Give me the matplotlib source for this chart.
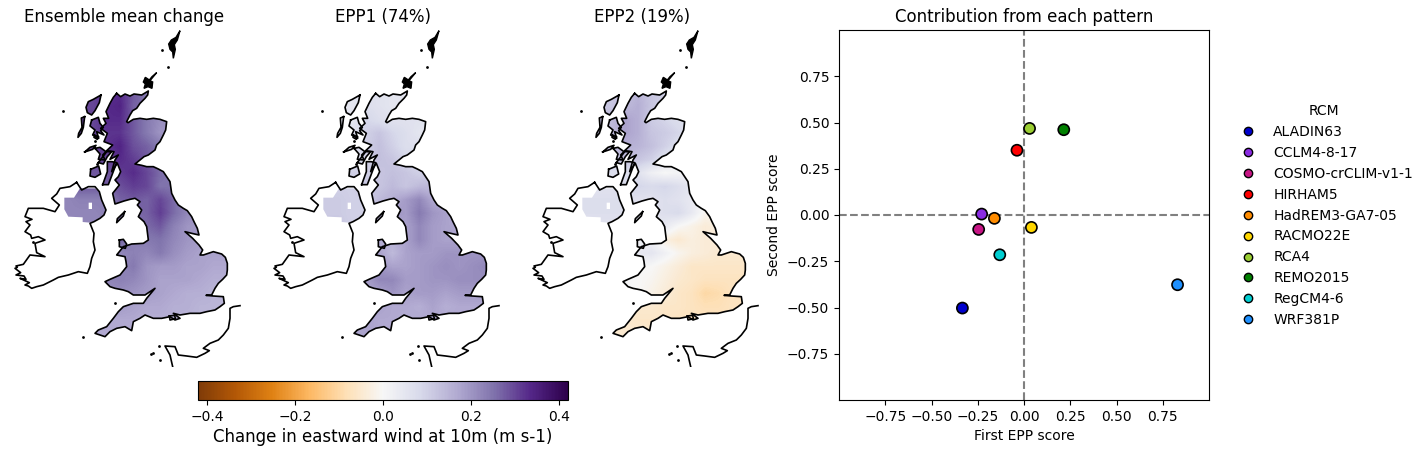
import matplotlib
matplotlib.use("Agg")
import matplotlib.pyplot as plt
import numpy as np
from matplotlib.lines import Line2D
from matplotlib.path import Path
from matplotlib.patches import PathPatch

# model scores
rcms = ["ALADIN63", "CCLM4-8-17", "COSMO-crCLIM-v1-1", "HIRHAM5", "HadREM3-GA7-05",
        "RACMO22E", "RCA4", "REMO2015", "RegCM4-6", "WRF381P"]
rcm_colours = ["mediumblue", "blueviolet", "mediumvioletred", "red", "darkorange",
               "gold", "yellowgreen", "green", "darkturquoise", "dodgerblue"]
epp1_score = [-0.333, -0.229, -0.245, -0.038, -0.16, 0.04, 0.03, 0.215, -0.131, 0.83]
epp2_score = [-0.503, 0.005, -0.078, 0.35, -0.018, -0.067, 0.468, 0.461, -0.215, -0.377]

titles = ["Ensemble mean change", "EPP1 (74%)", "EPP2 (19%)"]

# wind change on a coarse grid, hundredths of m/s, rows north to south
grid_x = [200, 240, 280, 320, 360, 400, 440, 480, 520, 560, 600, 640, 680]
grid_y = [220, 260, 300, 340, 380, 420, 460, 500, 540, 580, 620, 660, 700, 740, 780, 820, 860, 900, 940]
mean_change = [
    [30, 30, 30, 32, 33, 28, 24, 22, 20, 20, 20, 20, 20],
    [30, 30, 30, 33, 34, 27, 25, 22, 20, 20, 20, 20, 20],
    [30, 30, 30, 33, 33, 28, 24, 21, 20, 20, 20, 20, 20],
    [30, 30, 30, 32, 32, 28, 24, 20, 20, 20, 20, 20, 20],
    [30, 30, 30, 32, 34, 29, 27, 24, 22, 20, 20, 20, 20],
    [30, 30, 30, 30, 33, 31, 28, 25, 22, 20, 20, 20, 20],
    [28, 28, 28, 28, 31, 33, 30, 26, 24, 20, 20, 20, 20],
    [28, 28, 28, 28, 29, 31, 30, 25, 25, 24, 20, 20, 20],
    [22, 23, 23, 23, 27, 28, 27, 30, 26, 22, 20, 20, 20],
    [22, 22, 22, 23, 25, 26, 27, 31, 26, 22, 20, 20, 20],
    [22, 22, 22, 22, 24, 25, 26, 28, 23, 20, 19, 19, 19],
    [20, 20, 20, 22, 27, 23, 24, 25, 22, 20, 19, 19, 19],
    [20, 20, 20, 21, 22, 23, 22, 24, 21, 19, 18, 18, 18],
    [20, 20, 20, 21, 22, 24, 20, 19, 19, 18, 18, 17, 17],
    [20, 20, 20, 22, 23, 22, 20, 18, 18, 18, 17, 16, 16],
    [20, 20, 20, 21, 21, 20, 19, 18, 17, 16, 16, 15, 15],
    [20, 20, 20, 19, 19, 18, 17, 17, 16, 16, 15, 15, 15],
    [17, 17, 17, 17, 17, 17, 16, 16, 16, 15, 15, 15, 15],
    [17, 17, 17, 17, 17, 17, 16, 16, 16, 15, 15, 15, 15],
]
epp1_change = [
    [5, 5, 5, 7, 6, 5, 5, 5, 5, 5, 5, 5, 5],
    [5, 5, 5, 7, 6, 5, 5, 5, 5, 5, 5, 5, 5],
    [5, 5, 5, 9, 7, 6, 6, 6, 6, 5, 5, 5, 5],
    [6, 6, 6, 10, 12, 9, 7, 5, 5, 5, 5, 5, 5],
    [6, 6, 6, 10, 13, 10, 7, 7, 6, 5, 5, 5, 5],
    [6, 6, 6, 10, 13, 12, 9, 8, 8, 6, 6, 6, 6],
    [10, 10, 10, 10, 12, 13, 12, 10, 12, 10, 10, 10, 10],
    [10, 10, 10, 12, 12, 14, 12, 14, 14, 13, 10, 10, 10],
    [11, 11, 10, 10, 14, 16, 19, 22, 17, 16, 14, 14, 14],
    [11, 11, 10, 10, 16, 20, 19, 24, 20, 18, 16, 16, 16],
    [12, 12, 10, 10, 16, 18, 18, 22, 19, 18, 17, 17, 17],
    [15, 15, 15, 15, 16, 16, 18, 22, 19, 18, 18, 18, 18],
    [17, 17, 17, 17, 18, 14, 18, 19, 19, 20, 20, 20, 20],
    [18, 18, 18, 18, 20, 18, 18, 19, 20, 21, 20, 21, 22],
    [18, 18, 18, 18, 22, 22, 19, 19, 20, 20, 21, 21, 21],
    [18, 18, 18, 18, 18, 20, 18, 19, 19, 18, 19, 19, 19],
    [18, 18, 18, 18, 18, 17, 17, 16, 18, 16, 17, 17, 17],
    [18, 18, 18, 18, 17, 17, 16, 17, 17, 17, 17, 17, 17],
    [18, 18, 18, 18, 17, 17, 16, 17, 17, 17, 17, 17, 17],
]
epp2_change = [
    [12, 12, 12, 12, 15, 12, 10, 10, 8, 8, 8, 8, 8],
    [12, 12, 12, 14, 16, 12, 10, 10, 8, 8, 8, 8, 8],
    [14, 14, 14, 18, 16, 11, 9, 7, 6, 6, 6, 6, 6],
    [14, 14, 14, 18, 16, 12, 11, 9, 6, 5, 5, 5, 5],
    [14, 14, 14, 16, 15, 13, 10, 7, 5, 4, 4, 4, 4],
    [12, 12, 12, 13, 12, 10, 6, 3, 2, 2, 2, 2, 2],
    [7, 7, 7, 7, 6, 2, 0, 1, 1, 1, 1, 1, 1],
    [6, 6, 6, 8, 9, 8, 9, 7, 5, 1, 1, 1, 1],
    [7, 7, 7, 7, 6, 6, 7, 6, 4, 0, -1, -1, -1],
    [7, 7, 7, 7, 6, 6, 7, 8, 4, -1, -1, -1, -1],
    [6, 6, 6, 6, 5, 5, 4, 0, -2, -4, -3, -3, -3],
    [6, 6, 5, 3, 2, 2, -3, -5, -3, -4, -4, -4, -4],
    [3, 3, 3, 4, 4, 5, 2, -1, -3, -4, -5, -5, -5],
    [1, 1, 1, 1, 0, 0, -2, -4, -6, -6, -6, -6, -6],
    [0, 0, 0, 1, 0, -1, -3, -5, -6, -7, -7, -7, -7],
    [0, 0, 0, 0, 0, -2, -4, -6, -7, -10, -9, -7, -7],
    [-3, -3, -3, -4, -5, -5, -6, -6, -7, -8, -8, -7, -7],
    [-5, -5, -5, -5, -6, -6, -6, -7, -7, -7, -7, -7, -7],
    [-5, -5, -5, -5, -5, -6, -6, -7, -7, -7, -7, -7, -7],
]

gb_x = [350, 362, 375, 390, 402, 425, 445, 443, 435, 420, 410, 398, 390, 380, 384, 400, 420, 440, 460, 480, 500, 497, 490, 480, 470, 465, 445, 432, 420, 405, 425, 440, 460, 475, 490, 500, 510, 515, 525, 535, 550, 562, 575, 582, 592, 597, 575, 555, 578, 597, 608, 600, 610, 625, 640, 665, 676, 682, 682, 680, 668, 655, 645, 635, 618, 640, 670, 673, 660, 645, 620, 600, 570, 540, 520, 540, 525, 510, 485, 460, 435, 420, 400, 395, 375, 350, 330, 315, 300, 285, 295, 320, 340, 355, 370, 400, 430, 440, 465, 435, 400, 385, 370, 345, 330, 315, 330, 360, 372, 380, 378, 375, 350, 370, 395, 430, 445, 440, 432, 415, 425, 412, 420, 405, 390, 372, 345, 338, 358, 345, 355, 362, 352, 335, 345, 355, 330, 342, 320, 338, 312, 322, 302, 318, 310, 326, 318, 330, 340, 350]
gb_y = [220, 230, 222, 228, 222, 225, 213, 225, 235, 250, 265, 272, 285, 305, 308, 298, 295, 298, 295, 298, 305, 330, 345, 365, 375, 390, 405, 410, 420, 432, 436, 440, 440, 447, 455, 470, 485, 520, 540, 555, 565, 572, 590, 605, 625, 645, 640, 635, 655, 675, 690, 705, 705, 700, 695, 702, 712, 730, 750, 765, 778, 790, 805, 825, 826, 828, 830, 850, 860, 870, 875, 880, 880, 885, 880, 895, 900, 890, 895, 895, 885, 895, 905, 932, 920, 925, 935, 950, 945, 940, 930, 920, 895, 875, 860, 850, 850, 835, 805, 825, 825, 815, 810, 805, 800, 785, 778, 765, 750, 740, 725, 710, 705, 680, 672, 670, 660, 620, 605, 590, 570, 555, 545, 535, 538, 543, 552, 520, 495, 480, 470, 455, 430, 455, 420, 405, 418, 395, 392, 375, 365, 340, 325, 310, 295, 295, 275, 250, 232, 220]
ireland_x = [230, 245, 265, 285, 298, 305, 318, 312, 300, 282, 270, 282, 280, 285, 275, 270, 262, 235, 205, 175, 160, 130, 110, 95, 85, 75, 88, 60, 78, 72, 48, 62, 45, 52, 48, 70, 90, 135, 110, 105, 135, 115, 95, 92, 75, 90, 78, 96, 75, 85, 110, 130, 165, 178, 155, 170, 180, 210, 230]
ireland_y = [487, 510, 500, 500, 515, 540, 570, 585, 595, 605, 610, 640, 665, 690, 715, 740, 760, 755, 765, 772, 780, 795, 800, 805, 798, 795, 788, 775, 778, 768, 765, 758, 745, 742, 738, 733, 705, 710, 698, 670, 660, 650, 655, 645, 635, 615, 605, 598, 590, 565, 565, 565, 575, 555, 535, 522, 505, 500, 487]
# coloured part of Ireland, with the hole for the lough
ni_x = [193, 222, 240, 285, 298, 305, 318, 312, 300, 282, 270, 248, 248, 205, 193, 193]
ni_y = [533, 533, 505, 505, 515, 540, 570, 585, 595, 605, 608, 606, 592, 590, 568, 533]
lough_x = [266, 266, 276, 276, 266]
lough_y = [548, 567, 567, 548, 548]
france_x = [720, 700, 690, 690, 685, 670, 655, 630, 610, 628, 615, 590, 560, 535, 525, 495, 510, 518]
france_y = [857, 860, 865, 895, 925, 945, 960, 970, 985, 992, 1000, 1012, 1008, 1005, 980, 978, 1005, 1040]

# islands drawn solid
black_islands = {
    "shetland": ([540, 534, 528, 514, 506, 510, 518, 520, 526, 523, 532, 540], [32, 42, 52, 60, 72, 88, 96, 115, 88, 74, 60, 32]),
    "orkney": ([470, 456, 448, 436, 430, 436, 432, 444, 456, 458, 450, 470], [158, 170, 180, 172, 186, 192, 205, 200, 205, 186, 182, 158]),
}
# islands drawn as outlines with the field showing through
outline_islands = {
    "lewis": ([303, 298, 285, 275, 262, 258, 265, 280, 303], [225, 248, 272, 285, 278, 262, 245, 238, 225]),
    "uist": ([254, 244, 246, 236, 234, 244, 250, 254], [290, 294, 322, 340, 352, 340, 322, 290]),
    "skye": ([275, 295, 300, 310, 302, 312, 290, 296, 278, 285, 270, 275], [300, 292, 310, 322, 332, 345, 335, 355, 345, 330, 318, 300]),
    "small1": ([284, 296, 292, 282, 284], [346, 350, 358, 352, 346]),
    "mull": ([254, 270, 288, 278, 260, 254], [396, 382, 376, 388, 394, 396]),
    "coll": ([285, 300, 318, 308, 315, 295, 300, 285], [385, 382, 395, 405, 420, 418, 402, 385]),
    "jura": ([295, 320, 335, 322, 310, 295], [428, 395, 395, 410, 432, 428]),
    "islay": ([272, 296, 302, 285, 270, 272], [448, 438, 462, 472, 468, 448]),
    "kintyre": ([308, 322, 322, 336, 350, 336, 325, 308], [494, 455, 425, 425, 428, 465, 494, 494]),
    "man": ([374, 370, 350, 352, 374], [575, 588, 608, 596, 575]),
    "anglesey": ([358, 370, 380, 376, 358, 358], [660, 658, 672, 685, 680, 660]),
    "wight": ([508, 524, 526, 510, 508], [888, 886, 896, 900, 888]),
}
dot_x = [190, 485, 505, 250, 345, 477, 460, 454, 480, 100, 284, 290]
dot_y = [273, 90, 142, 952, 850, 978, 1000, 1002, 1020, 665, 362, 432]


def draw_map(ax, field, title):
    extent = [grid_x[0] - 20, grid_x[-1] + 20, grid_y[-1] + 20, grid_y[0] - 20]
    im = ax.imshow(np.array(field) / 100, cmap="PuOr", vmin=-0.42, vmax=0.42, extent=extent,
                   aspect="auto", interpolation="bilinear")
    verts, codes = [], []
    shapes = [(gb_x, gb_y), (ni_x, ni_y), (lough_x, lough_y)] + list(outline_islands.values())
    for sx, sy in shapes:
        verts += list(zip(sx, sy))
        codes += [Path.MOVETO] + [Path.LINETO] * (len(sx) - 1)
    patch = PathPatch(Path(verts, codes), transform=ax.transData, fc="none", ec="none")
    ax.add_patch(patch)
    im.set_clip_path(patch)
    ax.plot(gb_x, gb_y, color="k", lw=1.2)
    ax.plot(ireland_x, ireland_y, color="k", lw=1.2)
    ax.plot(france_x, france_y, color="k", lw=1.2)
    for sx, sy in black_islands.values():
        ax.fill(sx, sy, color="k", lw=1)
    for sx, sy in outline_islands.values():
        ax.plot(sx, sy, color="k", lw=1.2)
    ax.scatter(dot_x, dot_y, s=4, color="k", lw=0)
    ax.set_xlim(12, 732)
    ax.set_ylim(1041, 30)
    ax.axis("off")
    ax.set_title(title, fontsize=12, pad=6)
    return im


W, H = 1427, 454
fig = plt.figure(figsize=(W / 100, H / 100), dpi=100)


def px_axes(x0, y0, x1, y1):
    return fig.add_axes([x0 / W, 1 - y1 / H, (x1 - x0) / W, (y1 - y0) / H])


fields = [mean_change, epp1_change, epp2_change]
for centre, field, title in zip([124, 383, 642], fields, titles):
    ax = px_axes(centre - 120, 30, centre + 120, 367)
    im = draw_map(ax, field, title)

cax = px_axes(198, 381, 568, 400)
cbar = fig.colorbar(im, cax=cax, orientation="horizontal")
cbar.set_ticks([-0.4, -0.2, 0.0, 0.2, 0.4])
cbar.set_label("Change in eastward wind at 10m (m s-1)", fontsize=12, labelpad=3)

ax = px_axes(839, 30, 1209, 400)
ax.axhline(0, color="grey", ls="--", zorder=1, lw=1.5)
ax.axvline(0, color="grey", ls="--", zorder=1, lw=1.5)
ax.scatter(epp1_score, epp2_score, c=rcm_colours, s=64, edgecolors="k", linewidths=1.2, zorder=3)
ax.set_xlim(-1, 1)
ax.set_ylim(-1, 1)
ticks = [-0.75, -0.5, -0.25, 0, 0.25, 0.5, 0.75]
ax.set_xticks(ticks)
ax.set_yticks(ticks)
ax.set_xlabel("First EPP score", labelpad=4)
ax.set_ylabel("Second EPP score")
ax.set_title("Contribution from each pattern", fontsize=12, pad=6)

handles = [Line2D([], [], ls="", marker="o", mfc=c, mec="k", ms=6) for c in rcm_colours]
fig.legend(handles, rcms, title="RCM", frameon=False, loc="center left",
           bbox_to_anchor=(1222 / W, 1 - 215.5 / H), labelspacing=0.5)

fig.savefig("out.png", dpi=100)
